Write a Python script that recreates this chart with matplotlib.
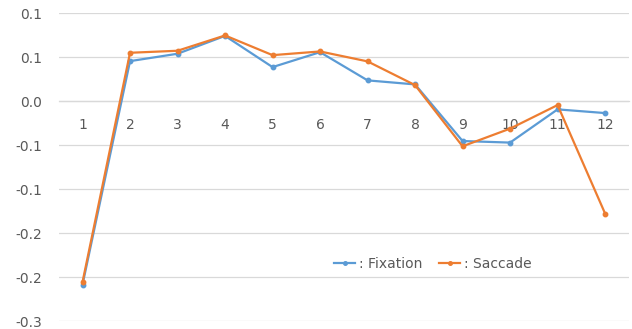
import matplotlib.pyplot as plt

# Per-segment values for the two eye-movement measures
segments = list(range(1, 13))
fixation = [-0.2085, 0.0458, 0.0542, 0.0745, 0.0390, 0.0560, 0.0239, 0.0193, -0.0451, -0.0469, -0.0091, -0.0133]
saccade = [-0.2055, 0.0553, 0.0576, 0.0750, 0.0526, 0.0568, 0.0455, 0.0185, -0.0511, -0.0310, -0.0042, -0.1276]

# y ticks every 0.05, labelled with one decimal (rounded half up)
y_ticks = [0.1, 0.05, 0.0, -0.05, -0.1, -0.15, -0.2, -0.25]
y_labels = ['0.1', '0.1', '0.0', '-0.1', '-0.1', '-0.2', '-0.2', '-0.3']

blue = '#5B9BD5'
orange = '#ED7D31'
text_gray = '#595959'
grid_gray = '#D9D9D9'

fig = plt.figure(figsize=(6.32, 3.29), dpi=100)
ax = fig.add_axes([0.093, 0.024, 0.902, 0.935])

ax.plot(segments, fixation, color=blue, lw=1.6, marker='o', ms=3.2, label=': Fixation', zorder=3)
ax.plot(segments, saccade, color=orange, lw=1.6, marker='o', ms=3.2, label=': Saccade', zorder=4)

ax.set_xlim(0.5, 12.5)
ax.set_ylim(-0.25, 0.1)
ax.set_yticks(y_ticks)
ax.set_yticklabels(y_labels)
ax.set_xticks(segments)
ax.set_xticklabels([str(s) for s in segments])

ax.grid(axis='y', color=grid_gray, lw=0.9)
ax.set_axisbelow(True)
for side in ['top', 'right', 'left']:
    ax.spines[side].set_visible(False)
ax.spines['bottom'].set_position(('data', 0))
ax.spines['bottom'].set_color(grid_gray)
ax.spines['bottom'].set_linewidth(0.9)

ax.tick_params(axis='both', length=0, colors=text_gray, labelsize=10)
ax.tick_params(axis='y', pad=12)
ax.tick_params(axis='x', pad=12)

ax.legend(loc='center', bbox_to_anchor=(433 / 632, 1 - 264 / 329), bbox_transform=fig.transFigure,
          ncol=2, frameon=False, fontsize=10, handlelength=1.5, handletextpad=0.3,
          columnspacing=1.2, labelcolor=text_gray, markerscale=0.8)

fig.savefig('out.png', dpi=100)
